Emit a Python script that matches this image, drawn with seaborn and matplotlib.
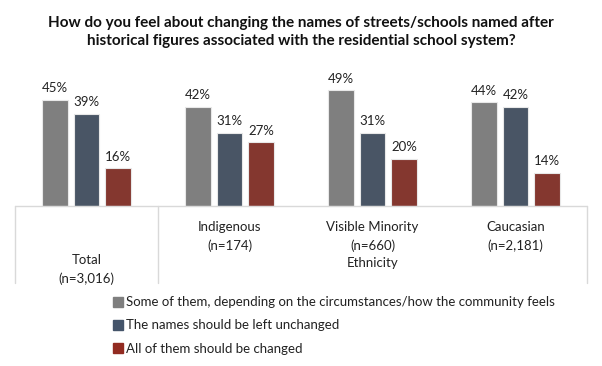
import matplotlib
matplotlib.use("Agg")
import matplotlib.pyplot as plt
import seaborn as sns
import pandas as pd
from matplotlib.lines import Line2D

# data
groups = ["Total", "Indigenous", "Visible Minority", "Caucasian"]
group_labels = ["Total\n(n=3,016)", "Indigenous\n(n=174)", "Visible Minority\n(n=660)", "Caucasian\n(n=2,181)"]
responses = [
    "Some of them, depending on the circumstances/how the community feels",
    "The names should be left unchanged",
    "All of them should be changed",
]
some_of_them = [45, 42, 49, 44]
left_unchanged = [39, 31, 31, 42]
all_changed = [16, 27, 20, 14]
colors = ["#7f7f7f", "#44546a", "#922b21"]

rows = []
for resp, vals in zip(responses, [some_of_them, left_unchanged, all_changed]):
    for g, v in zip(groups, vals):
        rows.append({"group": g, "response": resp, "value": v})
df = pd.DataFrame(rows)

sns.set_style("white")
plt.rcParams["font.family"] = ["Lato", "DejaVu Sans"]

fig = plt.figure(figsize=(6.02, 3.66), dpi=100)
ax = fig.add_axes([15 / 602, 1 - 206 / 366, 572 / 602, 151 / 366])

sns.barplot(data=df, x="group", y="value", hue="response", order=groups,
            hue_order=responses, palette=colors, width=0.66, gap=0.2,
            edgecolor="#e8e8e8", linewidth=0.8, legend=False, ax=ax)

for cont in ax.containers:
    ax.bar_label(cont, labels=[f"{int(b.get_height())}%" for b in cont],
                 padding=4, fontsize=9.5, color="#222222")

ax.set_xlim(-0.5, 3.5)
ax.set_ylim(0, 64)
ax.set_xlabel("")
ax.set_ylabel("")
ax.set_xticks([])
ax.set_yticks([])
for s in ["top", "right", "left", "bottom"]:
    ax.spines[s].set_visible(False)

# category table under the bars
tr = ax.get_xaxis_transform()
line_kw = dict(color="#d9d9d9", lw=1, transform=tr, clip_on=False)
ax.add_line(Line2D([-0.5, 3.5], [0, 0], **line_kw))
for xv in [-0.5, 0.5, 3.5]:
    ax.add_line(Line2D([xv, xv], [0, -0.51], **line_kw))

ax.text(0, -0.42, group_labels[0], transform=tr, ha="center", va="center",
        fontsize=9.5, linespacing=1.6, color="#222222")
for i in range(1, 4):
    ax.text(i, -0.2, group_labels[i], transform=tr, ha="center", va="center",
            fontsize=9.5, linespacing=1.6, color="#222222")
ax.text(2, -0.38, "Ethnicity", transform=tr, ha="center", va="center",
        fontsize=9.5, color="#222222")

fig.text(0.5, 1 - 32 / 366,
         "How do you feel about changing the names of streets/schools named after\n"
         "historical figures associated with the residential school system?",
         ha="center", va="center", fontsize=11, fontweight="bold",
         linespacing=1.45, color="#111111")

handles = [Line2D([], [], marker="s", ls="", color=c, markersize=6.5) for c in colors]
fig.legend(handles, responses, loc="upper left", bbox_to_anchor=(108 / 602, 1 - 291 / 366),
           frameon=False, fontsize=9.5, handlelength=0.7, handletextpad=0.3,
           labelspacing=0.85, borderaxespad=0, labelcolor="#222222")

fig.savefig("out.png", dpi=100)
